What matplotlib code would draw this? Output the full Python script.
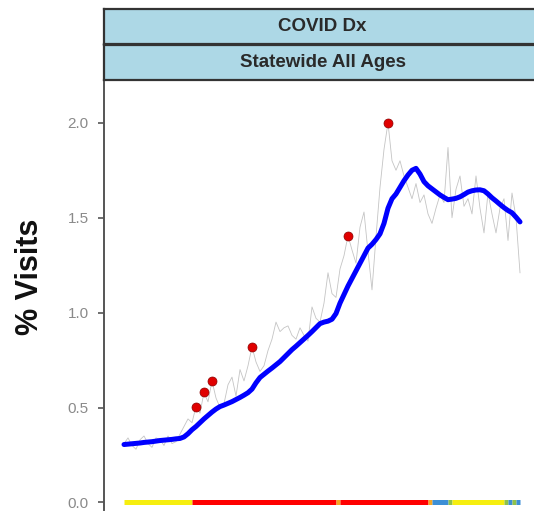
import numpy as np
import matplotlib
matplotlib.use("Agg")
import matplotlib.pyplot as plt

plt.rcParams['font.family'] = ['Liberation Sans', 'DejaVu Sans']

# daily % of visits (gray), smoothed trend (blue)
pct_visits = [0.31, 0.34, 0.30, 0.28, 0.33, 0.35, 0.31, 0.29, 0.34, 0.33,
              0.30, 0.35, 0.31, 0.32, 0.36, 0.40, 0.44, 0.42, 0.505, 0.47,
              0.58, 0.53, 0.64, 0.55, 0.50, 0.52, 0.62, 0.66, 0.56, 0.70,
              0.64, 0.72, 0.82, 0.74, 0.69, 0.72, 0.80, 0.86, 0.95, 0.90,
              0.92, 0.93, 0.88, 0.86, 0.92, 0.88, 0.85, 1.03, 0.97, 0.95,
              1.05, 1.21, 1.10, 1.08, 1.23, 1.30, 1.405, 1.33, 1.26, 1.45,
              1.53, 1.32, 1.12, 1.40, 1.66, 1.86, 2.00, 1.80, 1.75, 1.80,
              1.72, 1.66, 1.60, 1.68, 1.58, 1.62, 1.52, 1.47, 1.55, 1.62,
              1.58, 1.87, 1.50, 1.65, 1.72, 1.56, 1.60, 1.52, 1.72, 1.55,
              1.42, 1.63, 1.52, 1.42, 1.55, 1.60, 1.38, 1.63, 1.50, 1.21]

trend = [0.305, 0.307, 0.309, 0.311, 0.313, 0.316, 0.318, 0.320, 0.323, 0.326,
         0.328, 0.330, 0.332, 0.335, 0.337, 0.345, 0.362, 0.383, 0.400, 0.420,
         0.440, 0.458, 0.476, 0.492, 0.505, 0.513, 0.522, 0.531, 0.542, 0.553,
         0.565, 0.578, 0.597, 0.630, 0.658, 0.675, 0.692, 0.708, 0.725, 0.742,
         0.763, 0.784, 0.805, 0.823, 0.842, 0.861, 0.880, 0.900, 0.921, 0.942,
         0.950, 0.955, 0.965, 0.995, 1.050, 1.095, 1.140, 1.180, 1.220, 1.260,
         1.300, 1.340, 1.360, 1.385, 1.415, 1.470, 1.550, 1.600, 1.625, 1.660,
         1.695, 1.725, 1.750, 1.760, 1.730, 1.690, 1.668, 1.652, 1.636, 1.620,
         1.607, 1.595, 1.598, 1.602, 1.610, 1.622, 1.635, 1.642, 1.646, 1.647,
         1.642, 1.625, 1.605, 1.588, 1.570, 1.553, 1.538, 1.526, 1.503, 1.478]

# days flagged as alerts
alert_days = [18, 20, 22, 32, 56, 66]

# alert level bar along the bottom, as runs of days
level_names = ['yellow', 'red', 'orange', 'red', 'orange', 'blue', 'green',
               'yellow', 'green', 'blue', 'green', 'blue', 'green']
level_runs = [17, 36, 1, 22, 1, 4, 1, 13, 1, 1, 1, 1, 1]
level_colors = {'yellow': '#F6EE0F', 'red': '#FF0000', 'orange': '#F5A623',
                'blue': '#3C8FD6', 'green': '#8FC24A'}

days = np.arange(len(pct_visits))

fig = plt.figure(figsize=(5.34, 5.15), dpi=100)
ax = fig.add_axes([104 / 534, 1 - 510 / 515, 1 - 104 / 534, 428 / 515])

ax.plot(days, pct_visits, color='#C4C4C4', lw=0.6, zorder=2)
ax.plot(days, trend, color='#0000FF', lw=3.6, solid_capstyle='round', zorder=3)
ax.scatter([days[d] for d in alert_days], [pct_visits[d] for d in alert_days],
           s=42, color='#E00000', edgecolor='#8B0000', linewidth=0.5, zorder=4)

start = 0
for name, run in zip(level_names, level_runs):
    end = min(start + run, len(days) - 1)
    ax.plot([start, end], [0, 0], color=level_colors[name], lw=3.6,
            solid_capstyle='butt', zorder=2)
    start += run

ax.set_xlim(-5, 102.5)
ax.set_ylim(-0.04, 2.215)
ax.set_yticks([0.0, 0.5, 1.0, 1.5, 2.0])
ax.set_yticklabels(['0.0', '0.5', '1.0', '1.5', '2.0'])
ax.set_xticks([])
for side in ['top', 'right', 'bottom']:
    ax.spines[side].set_visible(False)
ax.spines['left'].set_color('#555555')
ax.spines['left'].set_linewidth(1.4)
ax.tick_params(axis='y', colors='#555555', length=4, width=1.2, labelsize=11,
               labelcolor='#8A8A8A', pad=7)

fig.text(30 / 534, 1 - 277 / 515, '% Visits', rotation=90, fontsize=22,
         fontweight='bold', ha='center', va='center', color='#111111')

strips = [('COVID Dx', 9, 44), ('Statewide All Ages', 45, 80)]
for label, top, bottom in strips:
    sax = fig.add_axes([104 / 534, 1 - bottom / 515, (541 - 104) / 534,
                        (bottom - top) / 515])
    sax.set_facecolor('#ADD8E6')
    sax.set_xticks([])
    sax.set_yticks([])
    for sp in sax.spines.values():
        sp.set_color('#333333')
        sp.set_linewidth(1.6)
    sax.text(0.5, 0.5, label, transform=sax.transAxes, ha='center',
             va='center', fontsize=13.5, fontweight='bold', color='#2A2A2A')

fig.savefig('out.png', dpi=100)
